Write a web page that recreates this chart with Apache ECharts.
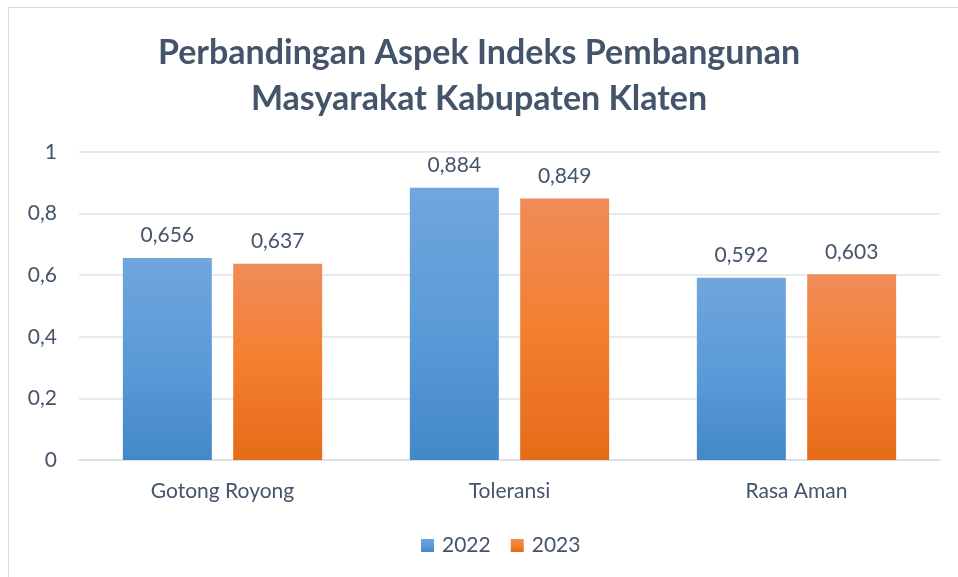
<!DOCTYPE html>
<html><head><meta charset="utf-8">
<script src="https://cdn.jsdelivr.net/npm/echarts@6/dist/echarts.min.js"></script>
<style>html,body{margin:0;padding:0;background:#fff;}#c{width:958px;height:577px;}
#b{position:absolute;left:8px;top:7px;width:960px;height:580px;border-left:1px solid #d9d9d9;border-top:1px solid #d9d9d9;pointer-events:none;}</style>
</head><body><div id="c"></div><div id="b"></div>
<script>
var categories = ['Gotong Royong', 'Toleransi', 'Rasa Aman'];
var values2022 = [0.656, 0.884, 0.592];
var values2023 = [0.637, 0.849, 0.603];
var seriesNames = ['2022', '2023'];
var yTicks = [0, 0.2, 0.4, 0.6, 0.8, 1];

var txt = '#44546A';
var font = 'Lato';
function fmt(v){ return String(v).replace('.', ','); }
function grad(c1, c2, c3){
  return new echarts.graphic.LinearGradient(0,0,0,1,[{offset:0,color:c1},{offset:0.5,color:c2},{offset:1,color:c3}]);
}
var chart = echarts.init(document.getElementById('c'));
chart.setOption({
  animation:false,
  title:{text:'Perbandingan Aspek Indeks Pembangunan\nMasyarakat Kabupaten Klaten', left:'center', top:25,
    textStyle:{color:txt, fontFamily:font, fontWeight:'bold', fontSize:34, lineHeight:46}},
  legend:{bottom:16, left:416, itemWidth:13, itemHeight:13, itemGap:20, icon:'rect',
    textStyle:{color:txt, fontFamily:font, fontSize:21, padding:[0,0,0,3]}, data:seriesNames},
  grid:{left:79, right:18, top:152, bottom:117},
  xAxis:{type:'category', data:categories, axisTick:{show:false},
    axisLine:{lineStyle:{color:'#d9dde3', width:1.5}},
    axisLabel:{color:txt, fontFamily:font, fontSize:21, margin:21}},
  yAxis:{type:'value', min:0, max:1, interval:0.2,
    axisLabel:{color:txt, fontFamily:font, fontSize:21, margin:22, formatter:function(v){return fmt(Math.round(v*10)/10);}},
    splitLine:{lineStyle:{color:'#e1e4e9', width:1.5}}, axisLine:{show:false}, axisTick:{show:false}},
  series:[
    {name:seriesNames[0], type:'bar', data:values2022, barWidth:'31%', barGap:'24%',
     itemStyle:{color:grad('#70a6dc','#5b9bd8','#4488c9')},
     label:{show:true, position:'top', distance:12, color:txt, fontFamily:font, fontSize:21, formatter:function(p){return fmt(p.value);}}},
    {name:seriesNames[1], type:'bar', data:values2023, barWidth:'31%', barGap:'24%',
     itemStyle:{color:grad('#f08c58','#f47f30','#e56b18')},
     label:{show:true, position:'top', distance:12, color:txt, fontFamily:font, fontSize:21, formatter:function(p){return fmt(p.value);}}}
  ]
});
</script></body></html>
